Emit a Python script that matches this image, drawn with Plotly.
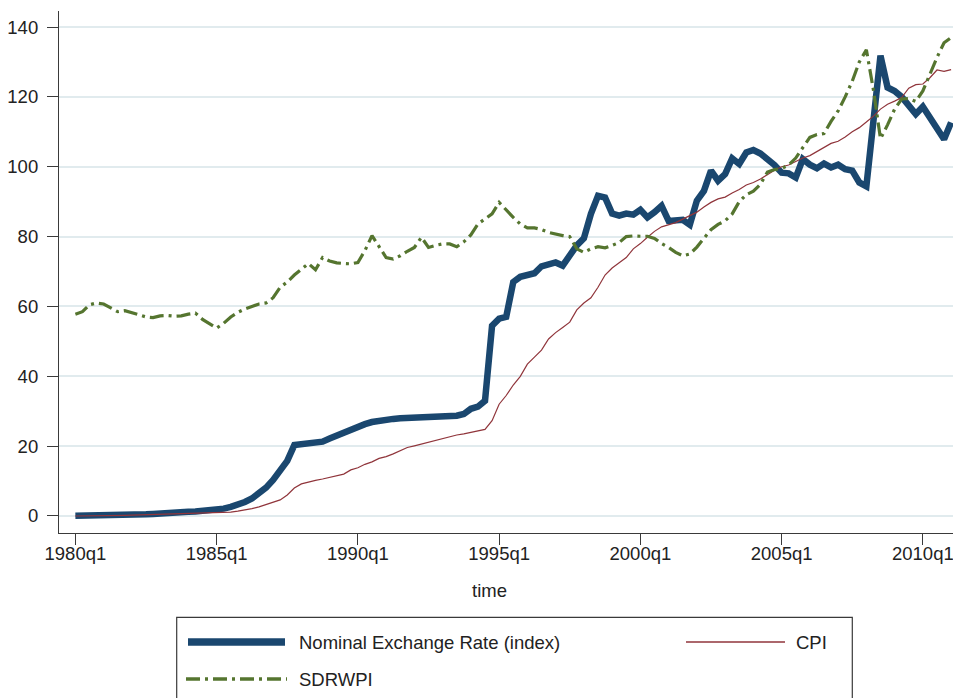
import plotly.graph_objects as go

# ---------------- data (quarterly, 1980q1 .. 2011q1) ----------------
start_year = 1980
n_quarters = 125
quarter_labels = [f"{start_year + i // 4}q{i % 4 + 1}" for i in range(n_quarters)]
tick_labels = ["1980q1", "1985q1", "1990q1", "1995q1", "2000q1", "2005q1", "2010q1"]
y_ticks = [0, 20, 40, 60, 80, 100, 120, 140]

nominal_exchange_rate = [
    0.1, 0.1, 0.1, 0.1, 0.1, 0.1, 0.15, 0.2, 0.3, 0.4,
    0.5, 0.6, 0.8, 0.9, 1.0, 1.1, 1.2, 1.3, 1.4, 1.5,
    1.7, 2.1, 2.6, 3.2, 4.0, 5.0, 6.4, 8.1, 10.3, 12.8,
    15.8, 20.3, 20.6, 20.7, 20.8, 21.3, 22.2, 23.1, 24.0, 24.8,
    25.5, 26.3, 26.9, 27.3, 27.6, 27.8, 28.0, 28.1, 28.2, 28.3,
    28.6, 28.5, 28.4, 28.5, 28.7, 29.2, 30.7, 31.3, 33.0, 54.5,
    56.5, 57.0, 67.0, 68.5, 68.8, 69.5, 71.5, 72.0, 72.6, 71.7,
    74.5, 77.5, 79.5, 86.5, 91.7, 91.2, 86.6, 86.0, 86.6, 86.3,
    87.7, 85.5, 87.0, 88.8, 84.5, 84.8, 84.8, 83.4, 90.3, 93.1,
    98.9, 96.0, 97.9, 102.4, 100.8, 104.1, 104.8, 103.8, 102.2, 100.5,
    98.3, 98.1, 96.9, 102.2, 100.6, 99.6, 100.9, 99.8, 100.6, 99.3,
    98.9, 95.5, 94.4, 113.0, 131.8, 122.7, 121.7, 120.0, 117.5, 115.1,
    117.2, 113.8, 110.8, 107.9, 112.7,
]

cpi = [
    0.0, 0.0, 0.0, 0.05, 0.1, 0.1, 0.15, 0.2, 0.25, 0.3,
    0.35, 0.4, 0.45, 0.5, 0.55, 0.6, 0.65, 0.7, 0.75, 0.8,
    0.9, 1.0, 1.1, 1.4, 1.7, 2.1, 2.6, 3.2, 3.9, 4.6,
    6.0, 8.0, 9.2, 9.8, 10.2, 10.6, 11.0, 11.5, 12.0, 13.2,
    13.8, 14.8, 15.5, 16.5, 17.0, 17.8, 18.8, 19.6, 20.1, 20.6,
    21.2, 21.7, 22.3, 22.8, 23.2, 23.5, 23.9, 24.3, 24.8, 27.3,
    32.0, 34.5, 37.5, 40.0, 43.5, 45.5, 47.5, 50.7, 52.5, 54.0,
    55.5, 59.0, 61.0, 62.5, 65.5, 69.0, 71.0, 72.5, 74.0, 76.5,
    78.0, 79.8, 81.5, 82.8, 83.5, 84.0, 85.0, 86.0, 87.0, 88.5,
    89.8, 90.8, 91.3, 92.5, 93.5, 94.8, 95.5, 96.5, 97.8, 99.0,
    100.0, 100.5, 101.5, 102.5, 103.2, 104.3, 105.5, 106.7, 107.3, 108.5,
    110.0, 111.2, 112.8, 114.5, 116.5, 117.9, 118.8, 119.8, 122.5, 123.5,
    123.7, 125.5, 127.7, 127.3, 127.8,
]

sdrwpi = [
    57.8, 58.5, 60.5, 61.0, 60.7, 59.5, 58.5, 58.8, 58.3, 57.6,
    57.0, 56.8, 57.3, 57.4, 57.2, 57.3, 57.8, 58.1, 56.3, 55.0,
    53.8, 55.2, 57.0, 58.3, 59.3, 60.0, 60.7, 61.0, 62.5, 65.5,
    67.0, 69.0, 70.8, 72.3, 70.5, 74.0, 73.0, 72.5, 72.3, 72.2,
    72.6, 76.0, 80.3, 77.0, 74.0, 73.6, 74.5, 75.8, 76.9, 79.8,
    76.9, 77.5, 77.9, 77.9, 77.1, 78.5, 80.5, 83.6, 85.0, 86.5,
    89.8, 87.5, 85.5, 83.6, 82.5, 82.5, 82.0, 81.2, 80.7, 80.3,
    80.0, 76.5, 75.5, 76.5, 77.1, 76.8, 77.5, 78.3, 80.0, 80.2,
    80.1, 80.1, 79.5, 78.0, 76.9, 75.5, 74.5, 75.0, 77.0, 79.5,
    82.0, 83.5, 84.5, 86.5, 90.0, 92.0, 93.0, 95.0, 98.5, 99.2,
    99.5, 100.5, 102.5, 105.5, 108.4, 109.2, 109.5, 113.0, 116.0, 120.0,
    124.5, 130.0, 133.5, 122.0, 108.0, 112.0, 116.5, 119.4, 119.5, 118.7,
    121.7, 126.5, 131.3, 135.5, 137.0,
]

series_names = ["Nominal Exchange Rate (index)", "CPI", "SDRWPI"]
x_title = "time"

# ---------------- styling ----------------
NAVY = "#1a476f"
MAROON = "#90353b"
GREEN = "#55752f"
AXIS = "#3a3a3a"
GRID = "#e1ebee"
FONT = "Liberation Sans, Arial, Helvetica, sans-serif"
FS = 18.5
PAGE_OFF = 8            # default page margin of the html body
W, H = 961 - PAGE_OFF, 698 - PAGE_OFF
ML, MR, MT, MB = 59 - PAGE_OFF, 0, 11 - PAGE_OFF, 165
SDR_DASH = "14px,5px,3px,5px"

x_idx = list(range(n_quarters))
tick_vals = [quarter_labels.index(t) for t in tick_labels]

fig = go.Figure()
fig.add_trace(go.Scatter(x=x_idx, y=nominal_exchange_rate, mode="lines",
                         name=series_names[0], line=dict(color=NAVY, width=6.5),
                         showlegend=False))
fig.add_trace(go.Scatter(x=x_idx, y=cpi, mode="lines", name=series_names[1],
                         line=dict(color=MAROON, width=1.2), showlegend=False))
fig.add_trace(go.Scatter(x=x_idx, y=sdrwpi, mode="lines", name=series_names[2],
                         line=dict(color=GREEN, width=3.2, dash=SDR_DASH),
                         showlegend=False))

# helpers for legend placement (page pixel -> paper)
pw = W - ML - MR
ph = H - MT - MB


def px(xp):
    return (xp - PAGE_OFF - ML) / pw


def py(yp):
    return (H - MB - (yp - PAGE_OFF)) / ph


shapes = [
    dict(type="rect", xref="paper", yref="paper", x0=px(176.7), x1=px(852.3),
         y0=py(617.3), y1=py(720), line=dict(color=AXIS, width=1.2),
         fillcolor="white", layer="below"),
    dict(type="line", xref="paper", yref="paper", x0=px(188), x1=px(285),
         y0=py(642), y1=py(642), line=dict(color=NAVY, width=7.3)),
    dict(type="line", xref="paper", yref="paper", x0=px(686), x1=px(785),
         y0=py(642), y1=py(642), line=dict(color=MAROON, width=1.3)),
    dict(type="line", xref="paper", yref="paper", x0=px(186), x1=px(287),
         y0=py(679), y1=py(679), line=dict(color=GREEN, width=3.4, dash=SDR_DASH)),
]

annotations = [
    dict(text=series_names[0], xref="paper", yref="paper", x=px(297), y=py(642),
         xanchor="left", yanchor="middle", showarrow=False,
         font=dict(family=FONT, size=FS, color="#222")),
    dict(text=series_names[1], xref="paper", yref="paper", x=px(794), y=py(642),
         xanchor="left", yanchor="middle", showarrow=False,
         font=dict(family=FONT, size=FS, color="#222")),
    dict(text=series_names[2], xref="paper", yref="paper", x=px(297), y=py(679),
         xanchor="left", yanchor="middle", showarrow=False,
         font=dict(family=FONT, size=FS, color="#222")),
    dict(text=x_title, xref="paper", yref="paper", x=px(489), y=py(590),
         xanchor="center", yanchor="middle", showarrow=False,
         font=dict(family=FONT, size=FS, color="#222")),
]

fig.update_layout(
    width=W, height=H,
    margin=dict(l=ML, r=MR, t=MT, b=MB, pad=0),
    paper_bgcolor="white", plot_bgcolor="white",
    font=dict(family=FONT, size=FS, color="#222"),
    showlegend=False,
    shapes=shapes,
    annotations=annotations,
    xaxis=dict(range=[-2.32, 125.4], tickvals=tick_vals, ticktext=tick_labels,
               ticks="outside", ticklen=11, tickwidth=1.2, tickcolor=AXIS,
               showline=True, linecolor=AXIS, linewidth=1.2,
               showgrid=False, zeroline=False, ticklabelstandoff=-7,
               tickfont=dict(family=FONT, size=FS, color="#222")),
    yaxis=dict(range=[-4.87, 144.6], tickvals=y_ticks,
               ticks="outside", ticklen=11, tickwidth=1.2, tickcolor=AXIS,
               showline=True, linecolor=AXIS, linewidth=1.2,
               showgrid=True, gridcolor=GRID, gridwidth=1.8,
               zeroline=False, ticklabelstandoff=5,
               tickfont=dict(family=FONT, size=FS, color="#222")),
)

fig.write_html("out.html")
